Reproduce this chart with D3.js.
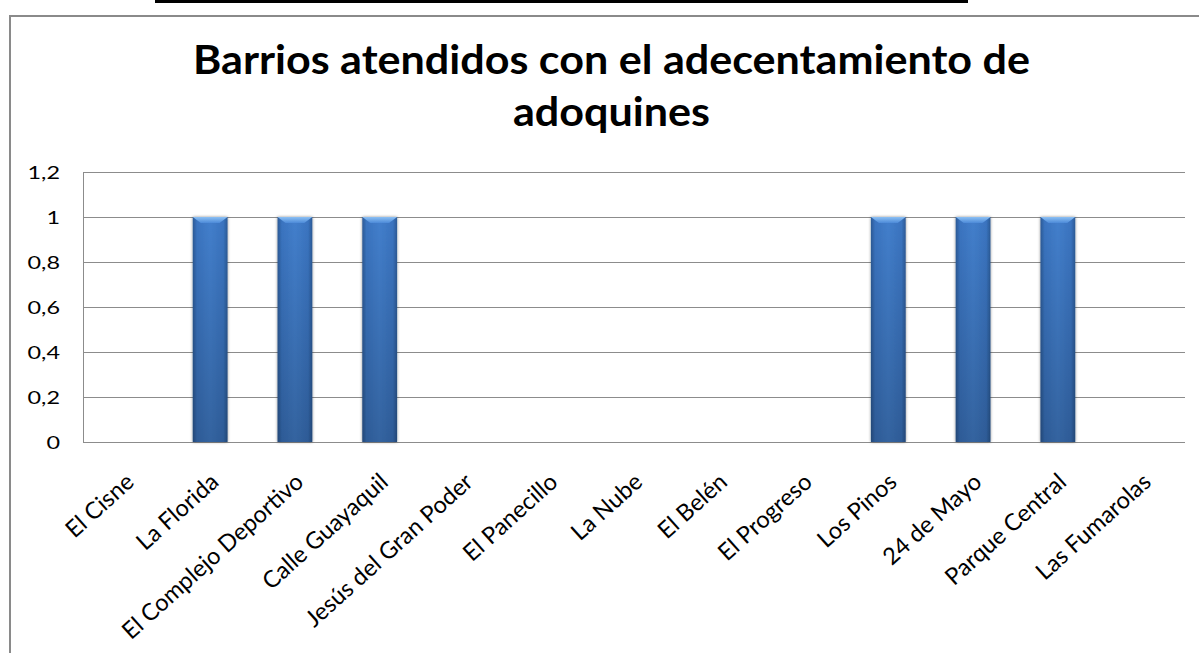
<!DOCTYPE html>
<html><head><meta charset="utf-8">
<script src="https://cdn.jsdelivr.net/npm/d3@7"></script>
<style>body{margin:0;background:#fff;} svg{display:block;}</style>
</head><body>
<script>
const categories = ["El Cisne","La Florida","El Complejo Deportivo","Calle Guayaquil","Jesús del Gran Poder","El Panecillo","La Nube","El Belén","El Progreso","Los Pinos","24 de Mayo","Parque Central","Las Fumarolas"];
const values = [0,1,1,1,0,0,0,0,0,1,1,1,0];
const yTicks = [0,0.2,0.4,0.6,0.8,1,1.2];
const titleLines = ["Barrios atendidos con el adecentamiento de","adoquines"];

const W=1199,H=653;
const svg=d3.select("body").append("svg").attr("width",W).attr("height",H);
const defs=svg.append("defs");
const gh=defs.append("linearGradient").attr("id","gh").attr("x1","0").attr("x2","1").attr("y1","0").attr("y2","0");
gh.append("stop").attr("offset","0").attr("stop-color","#2c5a96");
gh.append("stop").attr("offset","0.12").attr("stop-color","#3a74c0");
gh.append("stop").attr("offset","0.5").attr("stop-color","#437fcc");
gh.append("stop").attr("offset","0.88").attr("stop-color","#3a74c0");
gh.append("stop").attr("offset","1").attr("stop-color","#2c5a96");
const gv=defs.append("linearGradient").attr("id","gv").attr("x1","0").attr("x2","0").attr("y1","0").attr("y2","1");
gv.append("stop").attr("offset","0").attr("stop-color","#000").attr("stop-opacity","0");
gv.append("stop").attr("offset","1").attr("stop-color","#000").attr("stop-opacity","0.22");
const gt=defs.append("linearGradient").attr("id","gt").attr("x1","0").attr("x2","0").attr("y1","0").attr("y2","1");
gt.append("stop").attr("offset","0").attr("stop-color","#8cc0f4");
gt.append("stop").attr("offset","1").attr("stop-color","#4c8ad8");
const f=defs.append("filter").attr("id","sh").attr("x","-30%").attr("y","-10%").attr("width","160%").attr("height","120%");
f.append("feDropShadow").attr("dx","0").attr("dy","0").attr("stdDeviation","1.6").attr("flood-color","#000").attr("flood-opacity","0.45");

// top black line & chart border
svg.append("rect").attr("x",155).attr("y",0).attr("width",813).attr("height",3).attr("fill","#000");
svg.append("path").attr("d","M10,"+(H+2)+"V16H"+(W+2)).attr("fill","none").attr("stroke","#8a8a8a").attr("stroke-width",2);

const m={l:83,r:1185,t:172,b:442};
const x=d3.scaleBand().domain(categories).range([m.l,m.r]).paddingInner(0.59).paddingOuter(0.295);
const y=d3.scaleLinear().domain([0,1.2]).range([m.b,m.t]);
const fmt=d=>String(d).replace(".",",");
const font="Lato, 'Open Sans', sans-serif";

// title
const titleLen=[837,197];
svg.append("g").selectAll("text").data(titleLines).join("text")
  .attr("x",611.5).attr("y",(d,i)=>74+i*52).attr("text-anchor","middle")
  .attr("font-family",font).attr("font-weight","bold").attr("font-size",40).attr("fill","#000")
  .attr("textLength",(d,i)=>titleLen[i]).attr("lengthAdjust","spacingAndGlyphs")
  .text(d=>d);

// gridlines
const ga=svg.append("g").attr("transform",`translate(${m.l},0)`)
  .call(d3.axisLeft(y).tickValues(yTicks).tickSize(-(m.r-m.l)).tickFormat(fmt));
ga.select(".domain").remove();
ga.selectAll(".tick line").attr("stroke","#8c8c8c").attr("stroke-width",1);
ga.selectAll(".tick text").attr("font-family",font).attr("font-size",18).attr("fill","#000")
  .attr("x",0).attr("dy","0.36em").attr("transform","translate(-23,0) scale(1.3,1)");
svg.append("line").attr("x1",m.l+0.5).attr("x2",m.l+0.5).attr("y1",m.t).attr("y2",m.b).attr("stroke","#8c8c8c");

// bars
const bars=svg.append("g").selectAll("g").data(categories.map((c,i)=>({c,v:values[i]})).filter(d=>d.v>0)).join("g");
bars.append("rect").attr("x",d=>x(d.c)).attr("y",d=>y(d.v)).attr("width",x.bandwidth()).attr("height",d=>y(0)-y(d.v))
  .attr("fill","url(#gh)").attr("filter","url(#sh)");
bars.append("rect").attr("x",d=>x(d.c)).attr("y",d=>y(d.v)).attr("width",x.bandwidth()).attr("height",d=>y(0)-y(d.v))
  .attr("fill","url(#gv)");
bars.append("path").attr("d",d=>{const x0=x(d.c),w=x.bandwidth(),t=y(d.v),h=6;return `M${x0},${t}H${x0+w}L${x0+w-8},${t+h}H${x0+8}Z`;})
  .attr("fill","url(#gt)");

// category labels
const gx=svg.append("g").attr("transform",`translate(0,${m.b})`)
  .call(d3.axisBottom(x).tickSize(0).tickPadding(0));
gx.select(".domain").remove();
gx.selectAll(".tick text").attr("font-family",font).attr("font-size",23.5).attr("fill","#000")
  .attr("text-anchor","end").attr("dy",0).attr("y",0)
  .attr("transform","translate(10,42) rotate(-42)");
</script>
</body></html>
